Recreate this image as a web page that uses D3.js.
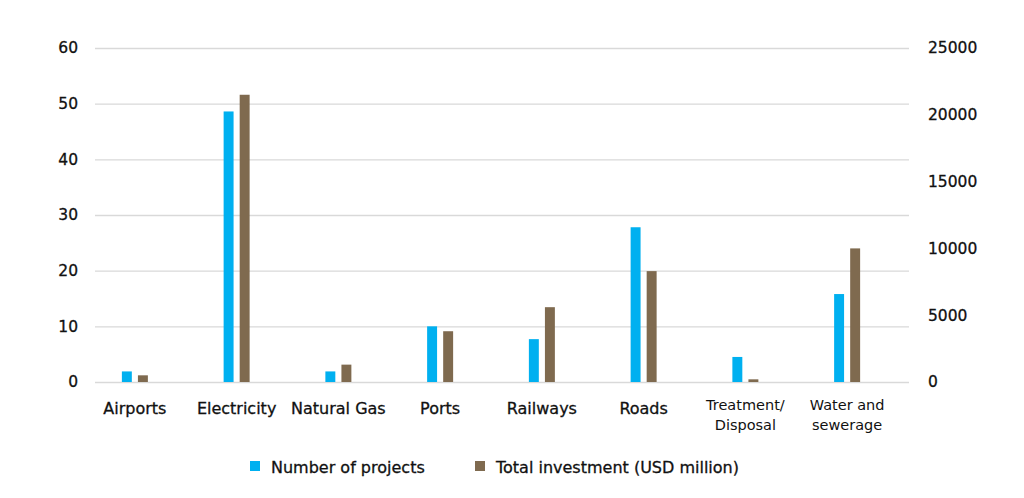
<!DOCTYPE html>
<html>
<head>
<meta charset="utf-8">
<script src="https://cdn.jsdelivr.net/npm/d3@7"></script>
<style>
  body { margin: 0; background: white; }
  text { font-family: "DejaVu Sans", sans-serif; fill: #111; }
  .heavy text, text.heavy { stroke: #111; stroke-width: 0.3px; }
</style>
</head>
<body>
<div id="container"></div>
<script>
// data
const categories = ['Airports', 'Electricity', 'Natural Gas', 'Ports', 'Railways', 'Roads', 'Treatment/\nDisposal', 'Water and\nsewerage']
const projects = [1.9, 48.6, 1.9, 10, 7.7, 27.8, 4.5, 15.8]
const investment = [500, 21500, 1300, 3800, 5600, 8300, 200, 10000]
const leftTicks = [0, 10, 20, 30, 40, 50, 60]
const rightTicks = [0, 5000, 10000, 15000, 20000, 25000]
const seriesNames = ['Number of projects', 'Total investment (USD million)']
const seriesColors = ['#00b0f0', '#7f6a4f']

const w = 1024
const h = 498
const plotLeft = 95
const plotRight = 909
const plotTop = 48
const plotBottom = 382
const clusterShift = -11

const svg = d3.select('#container')
  .append('svg')
    .attr('width', w)
    .attr('height', h)
    .style('background', 'white')

const scaleX = d3.scaleBand()
  .domain(categories)
  .range([plotLeft + clusterShift, plotRight + clusterShift])

const scaleInner = d3.scaleBand()
  .domain([0, 1])
  .range([-13, 13])
  .paddingInner(0.38)

const scaleYLeft = d3.scaleLinear()
  .domain([0, 60])
  .range([plotBottom, plotTop])

const scaleYRight = d3.scaleLinear()
  .domain([0, 25000])
  .range([plotBottom, plotTop])

// gridlines
svg.append('g')
  .attr('class', 'grid')
  .attr('transform', `translate(${plotLeft}, 0)`)
  .call(d3.axisLeft(scaleYLeft).tickValues(leftTicks).tickSize(-(plotRight - plotLeft)).tickFormat(''))
  .call(g => g.select('.domain').remove())
  .call(g => g.selectAll('line').attr('stroke', '#d9d9d9').attr('stroke-width', 1.4))

// left axis labels
svg.append('g')
  .attr('id', 'y-axis-left')
  .attr('class', 'heavy')
  .attr('transform', `translate(${plotLeft}, 0)`)
  .call(d3.axisLeft(scaleYLeft).tickValues(leftTicks).tickSize(0).tickPadding(17))
  .call(g => g.select('.domain').remove())
  .call(g => g.selectAll('text').style('font-size', '15.5px').style('font-family', '"DejaVu Sans", sans-serif').attr('fill', '#111'))

// right axis labels
svg.append('g')
  .attr('id', 'y-axis-right')
  .attr('class', 'heavy')
  .attr('transform', `translate(${plotRight}, 0)`)
  .call(d3.axisRight(scaleYRight).tickValues(rightTicks).tickSize(0).tickPadding(19).tickFormat(d3.format('d')))
  .call(g => g.select('.domain').remove())
  .call(g => g.selectAll('text').style('font-size', '15.5px').style('font-family', '"DejaVu Sans", sans-serif').attr('fill', '#111'))

const centre = c => scaleX(c) + scaleX.bandwidth() / 2

// bars
const bars = [
  { values: projects, scale: scaleYLeft },
  { values: investment, scale: scaleYRight }
]

bars.forEach((s, si) => {
  svg.append('g')
    .selectAll('rect')
    .data(categories)
    .enter()
  .append('rect')
    .attr('x', c => centre(c) + scaleInner(si))
    .attr('y', (c, i) => s.scale(s.values[i]))
    .attr('width', scaleInner.bandwidth())
    .attr('height', (c, i) => plotBottom - s.scale(s.values[i]))
    .attr('fill', seriesColors[si])
})

// category labels
const labels = svg.append('g')
  .selectAll('text')
  .data(categories)
  .enter()
.append('text')
  .attr('class', c => c.includes('\n') ? null : 'heavy')
  .attr('x', c => centre(c))
  .attr('y', c => c.includes('\n') ? 410 : 414)
  .attr('text-anchor', 'middle')
  .style('font-size', c => c.includes('\n') ? '14.5px' : '16px')
  .attr('fill', c => c.includes('\n') ? '#333' : '#111')

labels.selectAll('tspan')
  .data(c => c.split('\n').map(t => ({ t, c })))
  .enter()
.append('tspan')
  .attr('x', d => centre(d.c))
  .attr('dy', (d, i) => i === 0 ? 0 : 19.5)
  .text(d => d.t)

// legend
const legendX = [250, 475]
const legend = svg.append('g')
  .attr('class', 'heavy')
  .selectAll('g')
  .data(seriesNames)
  .enter()
.append('g')
  .attr('transform', (d, i) => `translate(${legendX[i]}, 461)`)

legend.append('rect')
  .attr('width', 10)
  .attr('height', 10)
  .attr('fill', (d, i) => seriesColors[i])

legend.append('text')
  .attr('x', 21)
  .attr('y', 12)
  .style('font-size', '16px')
  .text(d => d)
</script>
</body>
</html>
